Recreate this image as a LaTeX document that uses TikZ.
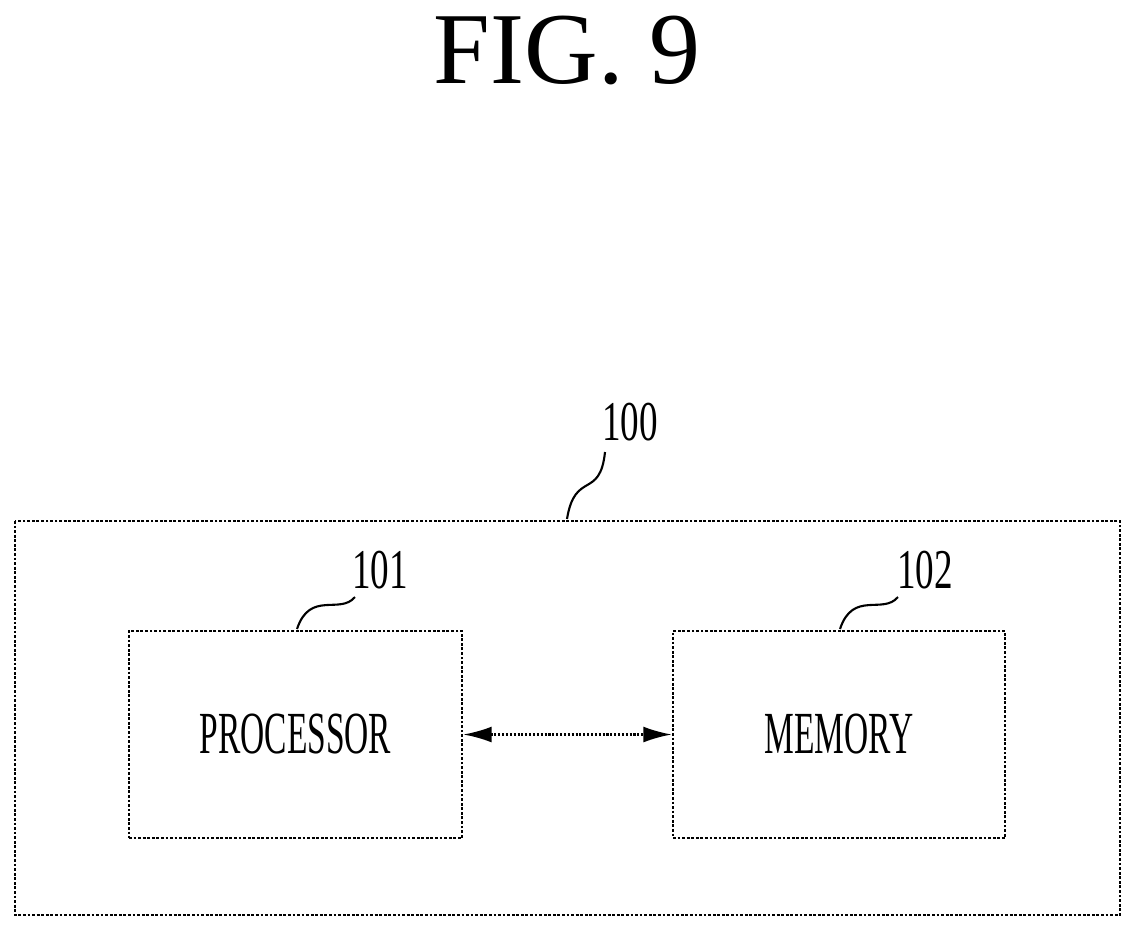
\documentclass[tikz,border=0pt]{standalone}
\usepackage{fontspec}
\usetikzlibrary{arrows.meta}
\setmainfont{Liberation Serif}
\begin{document}
\begin{tikzpicture}[x=0.02cm,y=-0.02cm,
 box/.style={draw,line width=1.6pt,densely dotted},
 lbl/.style={font=\fontsize{32}{34}\selectfont,xscale=0.66},
 txt/.style={font=\fontsize{34}{36}\selectfont,xscale=0.56},
 lead/.style={line width=1.2pt}]
\useasboundingbox (0,0) rectangle (1133,931);
\node[font=\fontsize{58}{62}\selectfont] (title) at (567,50) {FIG. 9};
\draw[box] (15,521) rectangle (1120,915);
\node[box,minimum width=333*0.02cm,minimum height=207*0.02cm,inner sep=0] (p) at (295.5,734.5) {};
\node[box,minimum width=332*0.02cm,minimum height=207*0.02cm,inner sep=0] (m) at (839,734.5) {};
\node[txt] (pt) at (p) {PROCESSOR};
\node[txt] (mt) at (m) {MEMORY};
\draw[line width=1.2pt,densely dotted,{Latex[length=16pt,width=9pt]}-{Latex[length=16pt,width=9pt]}] (p.east) -- (m.west);
\node[lbl] (l100) at (630,422) {100};
\node[lbl] (l101) at (380,570) {101};
\node[lbl] (l102) at (925,570) {102};
\coordinate (a0) at (567,519); \coordinate (a1) at (605,452);
\coordinate (b0) at (297,629); \coordinate (b1) at (355,597);
\coordinate (c0) at (840,629); \coordinate (c1) at (898,597);
\draw[lead] (a0) .. controls (575,470) and (600,500) .. (a1);
\draw[lead] (b0) .. controls (310,590) and (340,615) .. (b1);
\draw[lead] (c0) .. controls (853,590) and (883,615) .. (c1);
\end{tikzpicture}
\end{document}
